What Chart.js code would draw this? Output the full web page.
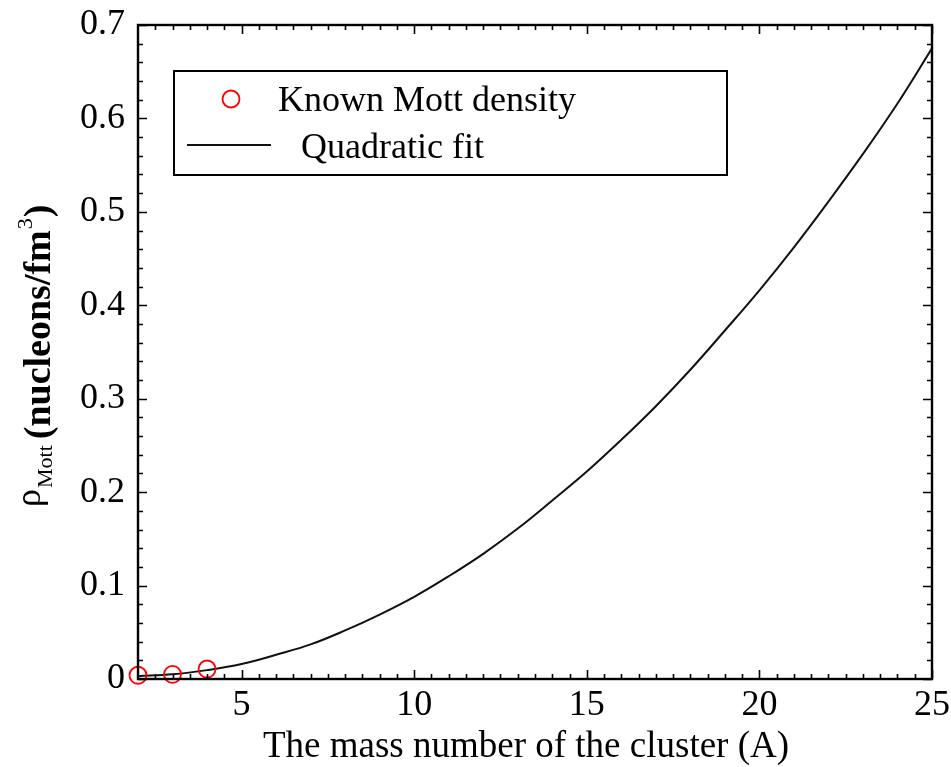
<!DOCTYPE html>
<html>
<head>
<meta charset="utf-8">
<title>Mott density vs cluster mass number</title>
<script src="https://cdn.jsdelivr.net/npm/chart.js@4.4.1/dist/chart.umd.min.js"></script>
<style>
  html, body { margin: 0; padding: 0; background: #fff; }
  #graphic { display: block; }
</style>
</head>
<body>
<canvas id="graphic" width="951" height="767"></canvas>
<script>
// known Mott densities (A = 2, 3, 4)
const knownA = [2, 3, 4];
const knownRho = [0.004, 0.005, 0.0107];

// quadratic fit curve, read at integer A
const fitA = [2, 3, 4, 5, 6, 7, 8, 9, 10, 11, 12, 13, 14, 15, 16, 17, 18, 19, 20, 21, 22, 23, 24, 25];
const fitRho = [0.003, 0.005, 0.0095, 0.016, 0.026, 0.037, 0.052, 0.069, 0.088, 0.110, 0.134, 0.161, 0.191, 0.222, 0.256, 0.292, 0.331, 0.373, 0.416, 0.462, 0.511, 0.562, 0.616, 0.675];

const xTicks = [5, 10, 15, 20, 25];
const yTicks = [0, 0.1, 0.2, 0.3, 0.4, 0.5, 0.6, 0.7];
const yTickLabels = ["0", "0.1", "0.2", "0.3", "0.4", "0.5", "0.6", "0.7"];

const legendLabels = ["Known Mott density", "Quadratic fit"];
const xTitle = "The mass number of the cluster (A)";

const SERIF = "'Liberation Serif', 'Times New Roman', serif";

// frame with inward ticks on all four sides
const framePlugin = {
  id: "frame",
  afterDatasetsDraw(chart) {
    const { ctx, chartArea: a, scales } = chart;
    const xs = scales.x;
    const ys = scales.y;
    ctx.save();
    ctx.strokeStyle = "#000";
    ctx.lineWidth = 1.6;
    ctx.beginPath();
    // x ticks, every 0.5, major at multiples of 5
    for (let i = 5; i <= 50; i++) {
      const v = i / 2;
      const px = Math.round(xs.getPixelForValue(v)) + 0.5;
      const len = v % 5 === 0 ? 9 : 5;
      ctx.moveTo(px, a.bottom);
      ctx.lineTo(px, a.bottom - len);
      ctx.moveTo(px, a.top);
      ctx.lineTo(px, a.top + len);
    }
    // y ticks, every 0.02, major at each 0.1
    for (let i = 0; i <= 35; i++) {
      const v = i * 0.02;
      const py = Math.round(ys.getPixelForValue(v)) + 0.5;
      const len = i % 5 === 0 ? 9 : 5;
      ctx.moveTo(a.left, py);
      ctx.lineTo(a.left + len, py);
      ctx.moveTo(a.right, py);
      ctx.lineTo(a.right - len, py);
    }
    ctx.stroke();
    ctx.lineWidth = 2.4;
    ctx.strokeRect(a.left, a.top, a.right - a.left, a.bottom - a.top);
    ctx.restore();
  },
};

// legend box in the upper left of the plot
const legendPlugin = {
  id: "boxLegend",
  afterDraw(chart) {
    const { ctx } = chart;
    const pts = chart.data.datasets[0];
    const fit = chart.data.datasets[1];
    ctx.save();
    ctx.strokeStyle = "#000";
    ctx.lineWidth = 2;
    ctx.fillStyle = "#fff";
    ctx.fillRect(174, 71, 553, 104);
    ctx.strokeRect(174, 71, 553, 104);

    ctx.strokeStyle = pts.borderColor;
    ctx.lineWidth = pts.borderWidth;
    ctx.beginPath();
    ctx.arc(231, 99, pts.pointRadius, 0, Math.PI * 2);
    ctx.stroke();

    ctx.strokeStyle = fit.borderColor;
    ctx.lineWidth = fit.borderWidth;
    ctx.beginPath();
    ctx.moveTo(187, 145);
    ctx.lineTo(271, 145);
    ctx.stroke();

    ctx.fillStyle = "#000";
    ctx.font = "36px " + SERIF;
    ctx.textBaseline = "alphabetic";
    ctx.fillText(legendLabels[0], 278, 111);
    ctx.fillText(legendLabels[1], 301, 158);
    ctx.restore();
  },
};

// axis titles; the y title carries a subscript and a superscript
const titlePlugin = {
  id: "titles",
  afterDraw(chart) {
    const { ctx } = chart;
    ctx.save();
    ctx.fillStyle = "#000";
    ctx.textBaseline = "alphabetic";
    ctx.font = "37px " + SERIF;
    ctx.textAlign = "center";
    ctx.fillText(xTitle, 526, 757);

    ctx.textAlign = "left";
    ctx.translate(0, 507);
    ctx.rotate(-Math.PI / 2);
    let x = 0;
    ctx.font = "36px " + SERIF;
    ctx.fillText("\u03C1", x, 40);
    x += ctx.measureText("\u03C1").width + 1;
    ctx.font = "22px " + SERIF;
    ctx.fillText("Mott", x, 52);
    x += ctx.measureText("Mott").width + 6;
    ctx.font = "bold 38px " + SERIF;
    ctx.fillText("(nucleons/fm", x, 50);
    x += ctx.measureText("(nucleons/fm").width + 1;
    ctx.font = "22px " + SERIF;
    ctx.fillText("3", x, 32);
    x += ctx.measureText("3").width + 1;
    ctx.font = "bold 38px " + SERIF;
    ctx.fillText(")", x, 50);
    ctx.restore();
  },
};

const graphicElement = document.getElementById("graphic");

const graphicChart = new Chart(graphicElement, {
  type: "scatter",
  data: {
    datasets: [
      {
        label: legendLabels[0],
        data: knownA.map((a, i) => ({ x: a, y: knownRho[i] })),
        showLine: false,
        pointStyle: "circle",
        pointRadius: 8.5,
        pointBorderWidth: 1.8,
        borderWidth: 1.8,
        borderColor: "#ff0000",
        backgroundColor: "rgba(0,0,0,0)",
        clip: false,
        order: 0,
      },
      {
        label: legendLabels[1],
        type: "line",
        data: fitA.map((a, i) => ({ x: a, y: fitRho[i] })),
        borderColor: "#111",
        borderWidth: 2,
        pointRadius: 0,
        tension: 0.4,
        fill: false,
        order: 1,
      },
    ],
  },
  options: {
    responsive: false,
    animation: false,
    events: [],
    layout: {
      padding: { left: 0, top: 25, right: 19, bottom: 0 },
    },
    plugins: {
      legend: { display: false },
      tooltip: { enabled: false },
    },
    scales: {
      x: {
        type: "linear",
        min: 2,
        max: 25,
        grid: { display: false },
        border: { display: false },
        afterBuildTicks(scale) {
          scale.ticks = xTicks.map((v) => ({ value: v }));
        },
        afterFit(scale) {
          scale.height = 88;
          scale.paddingLeft = 0;
          scale.paddingRight = 0;
        },
        ticks: {
          padding: -3,
          color: "#000",
          font: { family: SERIF, size: 36 },
          maxRotation: 0,
          autoSkip: false,
        },
      },
      y: {
        type: "linear",
        min: 0,
        max: 0.7,
        grid: { display: false },
        border: { display: false },
        afterBuildTicks(scale) {
          scale.ticks = yTicks.map((v) => ({ value: v }));
        },
        afterFit(scale) {
          scale.width = 138;
          scale.paddingTop = 0;
          scale.paddingBottom = 0;
        },
        ticks: {
          padding: 5,
          color: "#000",
          font: { family: SERIF, size: 36 },
          autoSkip: false,
          callback: (value) => yTickLabels[yTicks.indexOf(value)] ?? "",
        },
      },
    },
  },
  plugins: [framePlugin, legendPlugin, titlePlugin],
});
</script>
</body>
</html>
